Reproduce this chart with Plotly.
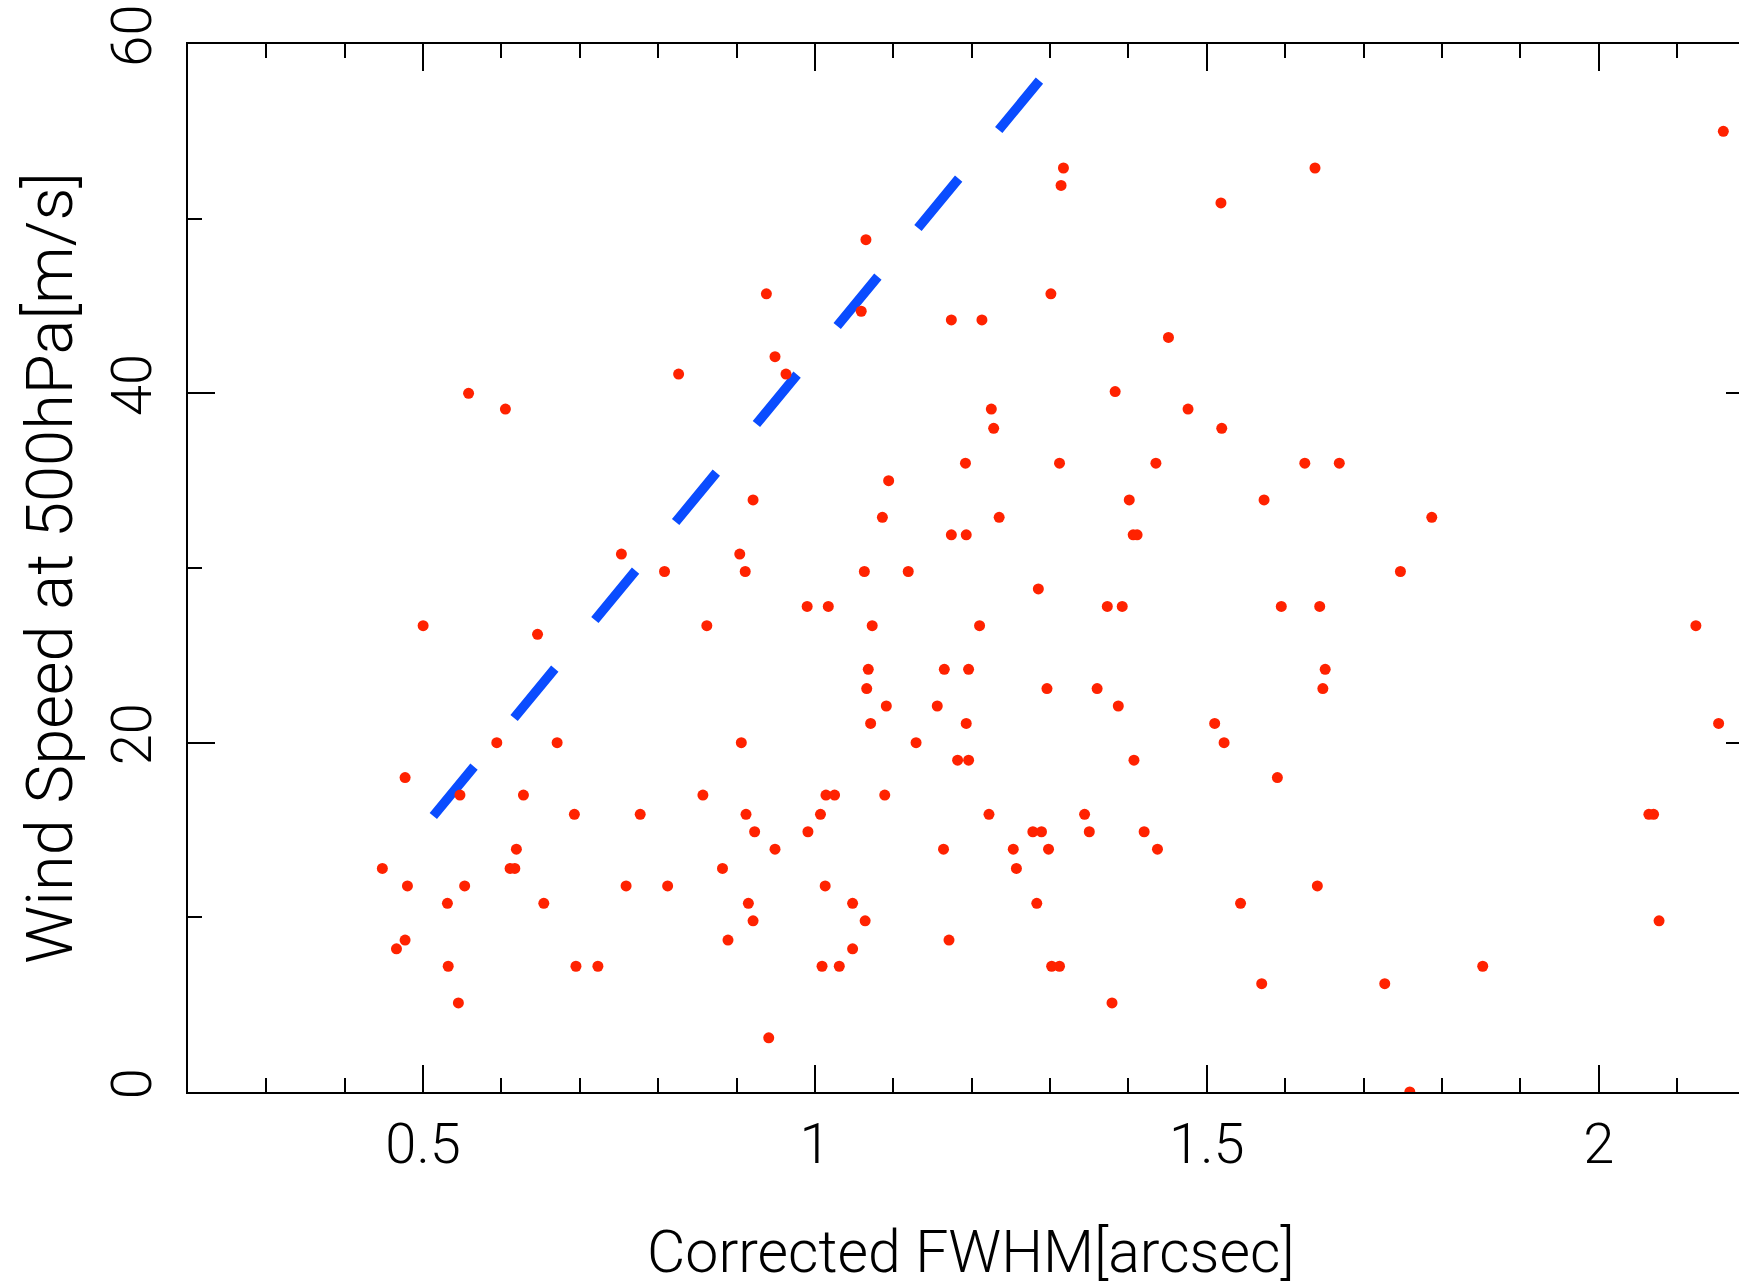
import plotly.graph_objects as go

# Corrected FWHM [arcsec] vs wind speed at 500 hPa [m/s]
fwhm = [
    0.558, 0.605, 0.826, 0.753,
    1.317, 1.314, 1.518, 1.065, 0.938, 1.301, 1.059, 1.174, 1.213, 1.451,
    0.949, 0.963, 1.383, 1.225, 1.476, 1.228, 1.519, 1.192, 1.312, 1.435,
    1.094, 0.921, 1.401, 1.086, 1.235, 1.174, 1.193, 1.406, 1.411, 0.904,
    1.638, 2.159, 1.625, 1.669, 1.573, 1.787,
    0.808, 0.911, 1.063, 1.119, 1.747,
    0.500, 0.646, 0.862, 0.594, 0.671, 0.477, 0.547, 0.628, 0.857, 0.693,
    0.777, 0.619, 0.448, 0.611, 0.617, 0.480, 0.553, 0.759, 0.812, 0.531,
    0.654, 0.477, 0.466, 0.532, 0.695, 0.723, 0.545,
    1.285, 0.990, 1.017, 1.373, 1.392, 1.073, 1.210, 1.068, 1.165, 1.196,
    1.066, 1.296, 1.360, 1.091, 1.156, 1.387, 1.071, 1.193, 1.510, 0.906,
    1.129, 1.522, 1.182, 1.196, 1.407, 1.014, 1.025, 1.089, 0.912, 1.007,
    1.222, 1.344, 0.923, 0.991, 1.278, 1.289, 1.350, 1.420, 0.949, 1.164,
    1.253, 1.298, 1.437, 0.882, 1.257, 1.013, 0.915, 1.048, 1.283, 0.921,
    1.064, 0.889, 1.171, 1.048, 1.009, 1.031, 1.302, 1.312, 1.379, 0.941,
    1.595, 1.644, 2.124, 1.651, 1.648, 2.153, 1.590, 2.064, 2.070, 1.641,
    1.543, 2.077, 1.570, 1.727, 1.852, 1.759,
]
wind = [
    40.0, 39.1, 41.1, 30.8,
    52.9, 51.9, 50.9, 48.8, 45.7, 45.7, 44.7, 44.2, 44.2, 43.2,
    42.1, 41.1, 40.1, 39.1, 39.1, 38.0, 38.0, 36.0, 36.0, 36.0,
    35.0, 33.9, 33.9, 32.9, 32.9, 31.9, 31.9, 31.9, 31.9, 30.8,
    52.9, 55.0, 36.0, 36.0, 33.9, 32.9,
    29.8, 29.8, 29.8, 29.8, 29.8,
    26.7, 26.2, 26.7, 20.0, 20.0, 18.0, 17.0, 17.0, 17.0, 15.9,
    15.9, 13.9, 12.8, 12.8, 12.8, 11.8, 11.8, 11.8, 11.8, 10.8,
    10.8, 8.7, 8.2, 7.2, 7.2, 7.2, 5.1,
    28.8, 27.8, 27.8, 27.8, 27.8, 26.7, 26.7, 24.2, 24.2, 24.2,
    23.1, 23.1, 23.1, 22.1, 22.1, 22.1, 21.1, 21.1, 21.1, 20.0,
    20.0, 20.0, 19.0, 19.0, 19.0, 17.0, 17.0, 17.0, 15.9, 15.9,
    15.9, 15.9, 14.9, 14.9, 14.9, 14.9, 14.9, 14.9, 13.9, 13.9,
    13.9, 13.9, 13.9, 12.8, 12.8, 11.8, 10.8, 10.8, 10.8, 9.8,
    9.8, 8.7, 8.7, 8.2, 7.2, 7.2, 7.2, 7.2, 5.1, 3.1,
    27.8, 27.8, 26.7, 24.2, 23.1, 21.1, 18.0, 15.9, 15.9, 11.8,
    10.8, 9.8, 6.2, 6.2, 7.2, 0.0,
]

# dashed reference line (end points)
fit_x = [0.513, 1.290]
fit_y = [15.8, 58.1]

x_tickvals = [0.5, 1, 1.5, 2]
x_ticktext = ["0.5", "1", "1.5", "2"]
y_tickvals = [0, 20, 40, 60]
y_ticktext = ["0", "20", "40", "60"]

x_title = "Corrected FWHM[arcsec]"
y_title = "Wind Speed at 500hPa[m/s]"

FONT = "Roboto, 'Liberation Sans', sans-serif"

fig = go.Figure()
fig.add_trace(go.Scatter(
    x=fit_x, y=fit_y, mode="lines",
    line=dict(color="#0a4cff", width=9.5, dash="64px,63px"),
    hoverinfo="skip", showlegend=False,
))
fig.add_trace(go.Scatter(
    x=fwhm, y=wind, mode="markers",
    marker=dict(color="#ff2200", size=11, line=dict(width=0)),
    showlegend=False,
))
fig.add_trace(go.Scatter(x=[], y=[], yaxis="y2", showlegend=False))

fig.update_layout(
    width=1739, height=1287,
    margin=dict(l=188, r=0, t=44, b=195, pad=0),
    plot_bgcolor="white", paper_bgcolor="white",
    showlegend=False,
    font=dict(family=FONT, color="black", size=56, weight=300),
    xaxis=dict(
        range=[0.2, 2.179], showgrid=False, zeroline=False,
        showline=True, linecolor="black", linewidth=2, mirror="ticks",
        ticks="inside", ticklen=27, tickwidth=2, tickcolor="black",
        tickmode="array", tickvals=x_tickvals, ticktext=x_ticktext,
        tickfont=dict(size=56, family=FONT, weight=300),
        ticklabelstandoff=2,
        minor=dict(tickmode="linear", tick0=0, dtick=0.1, ticks="inside",
                   ticklen=14, tickwidth=2, tickcolor="black", showgrid=False),
    ),
    yaxis=dict(
        range=[0, 60], showgrid=False, zeroline=False,
        showline=True, linecolor="black", linewidth=2, mirror=False,
        ticks="inside", ticklen=27, tickwidth=2, tickcolor="black",
        tickmode="array", tickvals=y_tickvals, ticktext=y_ticktext,
        tickangle=-90, tickfont=dict(size=56, family=FONT, weight=300),
        ticklabelstandoff=13,
        minor=dict(tickmode="linear", tick0=0, dtick=10, ticks="inside",
                   ticklen=14, tickwidth=2, tickcolor="black", showgrid=False),
    ),
    yaxis2=dict(
        range=[0, 60], overlaying="y", side="right", anchor="x",
        showgrid=False, zeroline=False, showline=False,
        ticks="inside", ticklen=13, tickwidth=2, tickcolor="black",
        tickmode="array", tickvals=y_tickvals, showticklabels=False,
    ),
    annotations=[
        dict(text=x_title, xref="paper", yref="paper", x=0.5048, y=-0.152,
             xanchor="center", yanchor="middle", showarrow=False,
             font=dict(size=59, family=FONT, weight=300, color="black")),
        dict(text=y_title, xref="paper", yref="paper", x=-0.089, y=0.5,
             xanchor="center", yanchor="middle", textangle=-90, showarrow=False,
             font=dict(size=65, family=FONT, weight=300, color="black")),
    ],
)

fig.write_html("out.html")
